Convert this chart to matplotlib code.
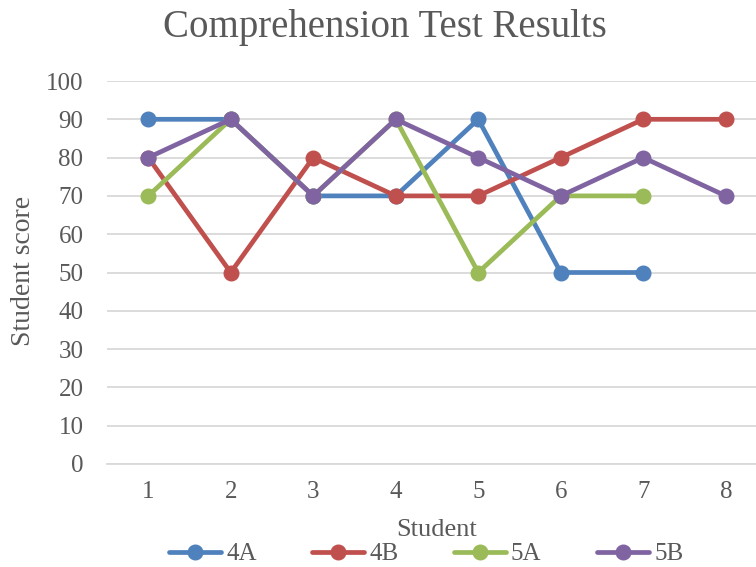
import matplotlib
matplotlib.use("Agg")
import matplotlib.pyplot as plt

students = [1, 2, 3, 4, 5, 6, 7, 8]
scores_4a = [90, 90, 70, 70, 90, 50, 50]
scores_4b = [80, 50, 80, 70, 70, 80, 90, 90]
scores_5a = [70, 90, 70, 90, 50, 70, 70]
scores_5b = [80, 90, 70, 90, 80, 70, 80, 70]

series = [("4A", scores_4a, "#4F81BD"),
          ("4B", scores_4b, "#C0504D"),
          ("5A", scores_5a, "#9BBB59"),
          ("5B", scores_5b, "#8064A2")]

plt.rcParams['font.family'] = ['Liberation Serif', 'DejaVu Serif']
text_col = "#595959"

fig = plt.figure(figsize=(7.56, 5.67), dpi=100)
ax = fig.add_axes([107 / 756, 1 - 464 / 567, 660 / 756, 383 / 567])

for name, vals, col in series:
    ax.plot(students[:len(vals)], vals, color=col, lw=3.4, marker='o',
            markersize=10.5, solid_capstyle='round', label=name)

ax.set_xlim(0.5, 8.5)
ax.set_ylim(0, 100)
ax.set_yticks(range(0, 101, 10))
ax.set_xticks(students)
ax.grid(axis='y', color='#D9D9D9', lw=1.3)
ax.set_axisbelow(True)
for s in ['top', 'right', 'left']:
    ax.spines[s].set_visible(False)
ax.spines['bottom'].set_color('#D9D9D9')
ax.spines['bottom'].set_linewidth(1.3)
ax.tick_params(axis='y', length=0, labelsize=18, colors=text_col, pad=17)
ax.tick_params(axis='x', length=0, labelsize=18, colors=text_col, pad=12)

fig.text(385 / 756, 1 - 28 / 567, "Comprehension Test Results", ha='center', va='center',
         fontsize=28, color=text_col)
fig.text(437 / 756, 1 - 530 / 567, "Student", ha='center', va='center',
         fontsize=19, color=text_col)
fig.text(24 / 756, 1 - 271 / 567, "Student score", ha='center', va='center',
         rotation=90, fontsize=20, color=text_col)

fig.legend(loc='center', bbox_to_anchor=(426 / 756, 1 - 554 / 567), ncol=4,
           frameon=False, handlelength=2.1, columnspacing=2.2, handletextpad=0.2,
           fontsize=18, labelcolor=text_col, borderpad=0)

fig.savefig("out.png", dpi=100)
